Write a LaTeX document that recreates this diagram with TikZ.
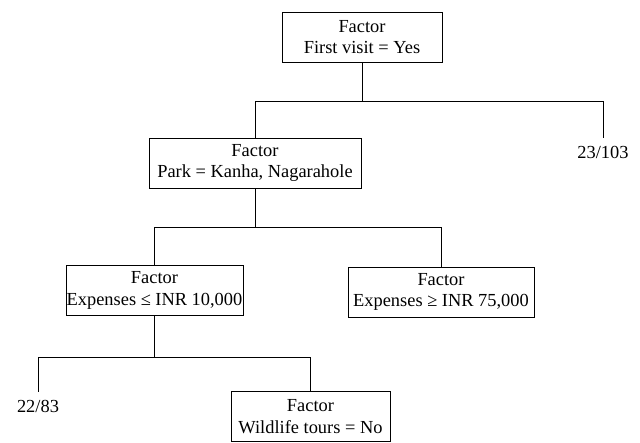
\documentclass[tikz,border=0pt]{standalone}
\usepackage{fontspec}
\setmainfont{Liberation Serif}
\usetikzlibrary{positioning}
\tikzstyle{factor} = [draw, line width=1pt, align=center, inner sep=0pt, minimum height=50pt, font=\fontsize{18.4}{21.7}\selectfont]
\tikzstyle{leaf} = [anchor=north, inner sep=8pt, font=\fontsize{18.4}{21.7}\selectfont]
\tikzstyle{branch} = [line width=1pt]

\begin{document}
\begin{tikzpicture}[x=1pt, y=-1pt]
	\useasboundingbox (0,0) rectangle (640,442);
	\node[factor, minimum width=160pt] (f1) at (362, 37) {Factor\\First visit = Yes};
	\node[factor, minimum width=212pt] (f2) at (255, 163) {Factor\\Park = Kanha, Nagarahole};
	\node[factor, minimum width=177pt] (f3) at (154.5, 290.5) {Factor\\Expenses ≤ INR 10,000};
	\node[factor, minimum width=186pt] (f4) at (441, 292) {Factor\\Expenses ≥ INR 75,000};
	\node[factor, minimum width=159pt] (f5) at (310.5, 416.5) {Factor\\Wildlife tours = No};
	\node[leaf] (l1) at (603, 138) {23/103};
	\node[leaf] (l2) at (38, 392) {22/83};
	% branches
	\draw[branch] (f1.south) -- ++(0,39) -| (l1.north);
	\draw[branch] (f1.south) ++(0,39) -| (f2.north);
	\draw[branch] (f2.south) -- ++(0,39) -| (f3.north);
	\draw[branch] (f2.south) ++(0,39) -| (f4.north);
	\draw[branch] (f3.south) -- ++(0,41) -| (l2.north);
	\draw[branch] (f3.south) ++(0,41) -| (f5.north);
\end{tikzpicture}
\end{document}
